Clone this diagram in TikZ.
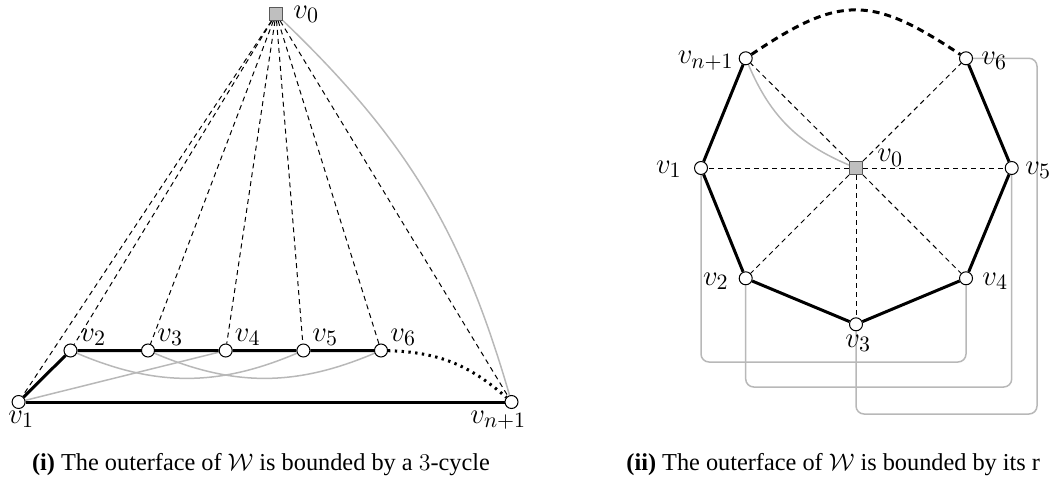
\documentclass[tikz,border=0pt]{standalone}
\usepackage[no-math]{fontspec}
\newfontfamily\capfont{Liberation Serif}
\usetikzlibrary{backgrounds}
\begin{document}
\begin{tikzpicture}[x=0.5pt,y=-0.5pt,
  vtx/.style={circle,draw=black,fill=white,line width=0.5pt,inner sep=0pt,minimum size=6.5pt},
  hub/.style={rectangle,draw=black!65,fill=black!25,line width=0.5pt,inner sep=0pt,minimum size=6.5pt},
  lab/.style={inner sep=0pt,anchor=base west,font=\fontsize{15}{18}\selectfont},
  labr/.style={lab,anchor=base east},
  cyc/.style={line width=1.5pt,black},
  spoke/.style={line width=0.5pt,dash pattern=on 2.5pt off 2pt},
  chord/.style={line width=0.75pt,draw=black!28},
  route/.style={chord,rounded corners=4pt},
  dotline/.style={line width=1.5pt,dash pattern=on 1.2pt off 2.2pt},
  thickdash/.style={line width=1.5pt,dash pattern=on 3.5pt off 2.5pt},
  captext/.style={inner sep=0pt,anchor=base west,font=\capfont\fontsize{12.15}{14}\selectfont}]
\useasboundingbox (0,0) rectangle (1054,481);
\clip (0,0) rectangle (1054,481);

% ---------- left figure ----------
\node[hub] (a0) at (276,14) {};
\node[vtx] (a1) at (18.6,402) {};
\node[vtx] (a2) at (70.5,350.5) {};
\node[vtx] (a3) at (148,350.5) {};
\node[vtx] (a4) at (225.7,350.5) {};
\node[vtx] (a5) at (303.4,350.5) {};
\node[vtx] (a6) at (381,350.5) {};
\node[vtx] (an) at (511.5,402) {};

\node[lab] (la0) at (293,18.5) {$v_0$};
\node[lab] (la1) at (8,423) {$v_1$};
\node[lab] (la2) at (80,341) {$v_2$};
\node[lab] (la3) at (157,341) {$v_3$};
\node[lab] (la4) at (234.5,341) {$v_4$};
\node[lab] (la5) at (312,341) {$v_5$};
\node[lab] (la6) at (390,341) {$v_6$};
\node[lab] (lan) at (470,423) {$v_{n+1}$};

\begin{scope}[on background layer]
  \foreach \t in {a1,a2,a3,a4,a5,a6,an} \draw[spoke] (a0) -- (\t);
  \draw[chord] (a0) to[bend left=15] (an);
  \draw[chord] (a1) -- (a4);
  \draw[chord] (a2) to[bend right=23] (a5);
  \draw[chord] (a3) to[bend right=23] (a6);
  \draw[cyc] (a1) -- (a2) -- (a3) -- (a4) -- (a5) -- (a6);
  \draw[cyc] (a1) -- (an);
  \draw[dotline] (a6) to[bend left=20] (an);
\end{scope}

\node[captext] (capa) at (31.7,470) {\textbf{(i)} The outerface of $\mathcal{W}$ is bounded by a $3$-cycle};

% ---------- right figure ----------
\node[hub] (b0) at (856,168) {};
\node[vtx] (b1) at (701,168) {};
\node[vtx] (b2) at (745.7,278.3) {};
\node[vtx] (b3) at (856,324.3) {};
\node[vtx] (b4) at (966,278.3) {};
\node[vtx] (b5) at (1011.7,168) {};
\node[vtx] (b6) at (966,58.3) {};
\node[vtx] (bn) at (745.7,58.3) {};

\node[lab] (lb0) at (877,162) {$v_0$};
\node[labr] (lb1) at (682,173) {$v_1$};
\node[labr] (lb2) at (729,285) {$v_2$};
\node[lab] (lb3) at (845,347) {$v_3$};
\node[lab] (lb4) at (982,285) {$v_4$};
\node[lab] (lb5) at (1025,174) {$v_5$};
\node[lab] (lb6) at (981,65) {$v_6$};
\node[labr] (lbn) at (734,64) {$v_{n+1}$};

\coordinate (r6) at (1037,414);
\coordinate (r5) at (745.7,387);
\coordinate (r4) at (701,362);

\begin{scope}[on background layer]
  \foreach \t in {b1,b2,b3,b4,b5,b6,bn} \draw[spoke] (b0) -- (\t);
  \draw[chord] (bn) to[bend right=22] (b0);
  \draw[route] (b6.east) -| (r6) -| (b3.south);
  \draw[route] (b5.south) |- (r5) -- (b2.south);
  \draw[route] (b4.south) |- (r4) -- (b1.south);
  \draw[cyc] (bn) -- (b1) -- (b2) -- (b3) -- (b4) -- (b5) -- (b6);
  \draw[thickdash] (bn) .. controls (840,-5) and (871,-5) .. (b6);
\end{scope}

\node[captext] (capb) at (626,470) {\textbf{(ii)} The outerface of $\mathcal{W}$ is bounded by its r};
\end{tikzpicture}
\end{document}
